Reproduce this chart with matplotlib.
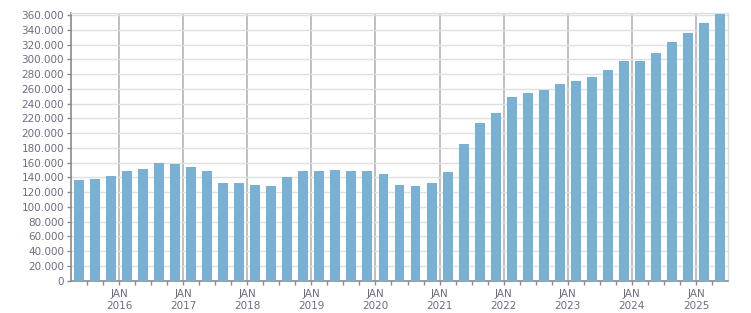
import numpy as np
import matplotlib
matplotlib.use("Agg")
import matplotlib.pyplot as plt
from matplotlib.ticker import FuncFormatter, FixedLocator

# Quarterly values, Q2 2015 .. Q2 2025
values = [137000, 138000, 142000, 149000, 151500, 159700, 158300, 154200,
          149000, 132500, 132500, 129800, 128500, 140700, 148800, 148800,
          150200, 148800, 148800, 144700, 129800, 128500, 132500, 147400,
          185400, 214000, 227500, 249200, 254600, 258700, 266800, 270900,
          276300, 285800, 298000, 298000, 308900, 323800, 336000, 349600,
          361800]
years = list(range(2016, 2026))
first_jan = 3  # quarter boundary index of JAN 2016

bar_col = '#78b1d3'
txt_col = '#6e6b82'
axis_col = '#8a8a8a'

fig = plt.figure(figsize=(7.51, 3.13), dpi=100)
ax = fig.add_axes([0.0945, 0.1032, 0.8749, 0.8553])

x = np.arange(len(values)) + 0.5
ax.bar(x, values, width=0.62, color=bar_col, zorder=3)

ax.set_xlim(0, len(values))
ax.set_ylim(0, 363000)

# y axis
ax.set_yticks(np.arange(0, 360001, 20000))
ax.yaxis.set_major_formatter(FuncFormatter(lambda v, p: f'{int(v):,}'.replace(',', '.')))
ax.grid(axis='y', color='#e0e0e0', linewidth=1, zorder=0)

# x axis: JAN ticks with labels, quarter ticks between bars
jan_pos = [first_jan + 4 * i for i in range(len(years))]
ax.set_xticks(jan_pos)
ax.set_xticklabels([f'JAN\n{y}' for y in years], linespacing=1.2)
ax.xaxis.set_minor_locator(FixedLocator(range(1, len(values))))
for p in jan_pos:
    ax.axvline(p, color='#b4b4b4', linewidth=1.2, zorder=1)

ax.tick_params(axis='both', which='both', direction='out', length=3,
               color=axis_col, labelcolor=txt_col, labelsize=7.5, width=1)
ax.tick_params(axis='x', which='major', pad=3)
ax.tick_params(axis='y', pad=2)

for s in ['left', 'bottom']:
    ax.spines[s].set_color(axis_col)
    ax.spines[s].set_linewidth(1.2)
for s in ['top', 'right']:
    ax.spines[s].set_color('#dedede')
    ax.spines[s].set_linewidth(1)

fig.savefig('out.png', dpi=100)
